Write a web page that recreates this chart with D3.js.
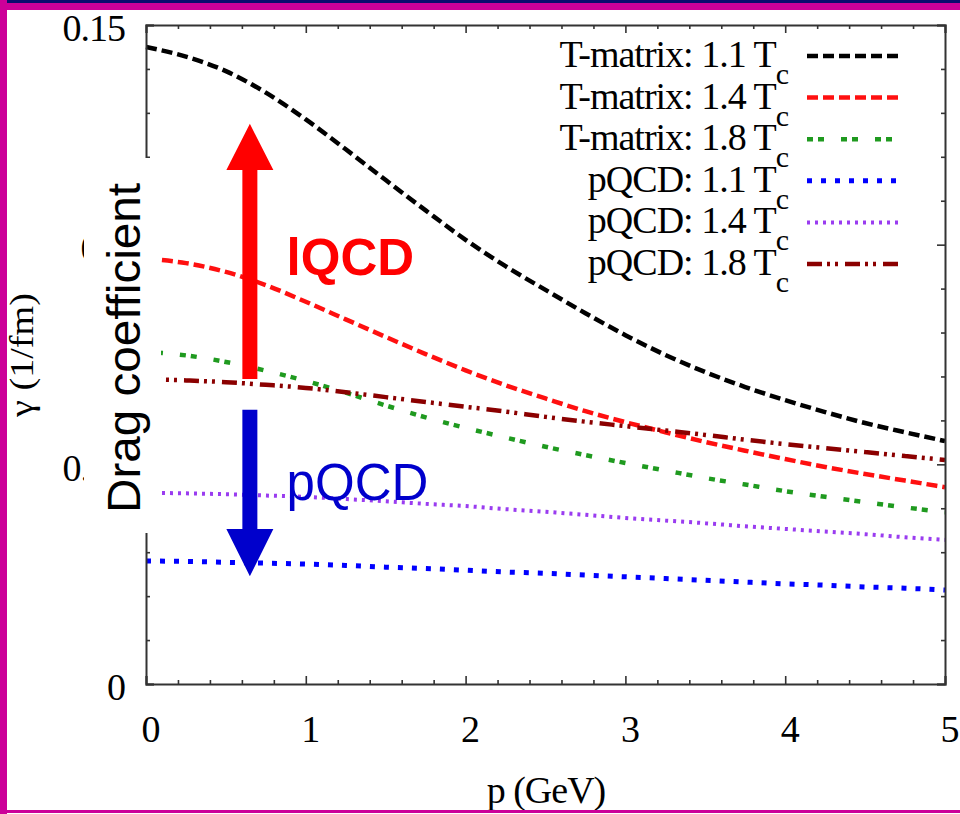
<!DOCTYPE html>
<html>
<head>
<meta charset="utf-8">
<script src="https://cdn.jsdelivr.net/npm/d3@7"></script>
<style>
  html, body { margin: 0; padding: 0; background: #fff; }
  svg { display: block; }
  .serif { font-family: "Liberation Serif", "Times New Roman", serif; fill: #000; font-size: 38px; letter-spacing: -1px; }
  .sans { font-family: "Liberation Sans", Arial, sans-serif; }
</style>
</head>
<body>
<svg id="chart" width="960" height="814"></svg>
<script>
// Momentum grid (GeV)
const momentum = [0, 0.25, 0.5, 0.75, 1, 1.25, 1.5, 1.75, 2, 2.25, 2.5, 2.75, 3, 3.25, 3.5, 3.75, 4, 4.25, 4.5, 4.75, 5];

// Drag coefficient gamma (1/fm) for each model and temperature
const tmatrix11 = [0.1450, 0.1428, 0.1395, 0.1346, 0.1285, 0.1217, 0.1147, 0.1078, 0.1011, 0.0951, 0.0897, 0.0844, 0.0794, 0.0749, 0.0710, 0.0676, 0.0646, 0.0619, 0.0594, 0.0573, 0.0553];
const tmatrix14 = [0.0968, 0.0958, 0.0938, 0.0908, 0.0870, 0.0830, 0.0790, 0.0751, 0.0714, 0.0680, 0.0650, 0.0621, 0.0596, 0.0573, 0.0551, 0.0531, 0.0512, 0.0494, 0.0478, 0.0463, 0.0448];
const tmatrix18 = [0.0756, 0.0748, 0.0733, 0.0713, 0.0690, 0.0663, 0.0634, 0.0607, 0.0583, 0.0561, 0.0540, 0.0521, 0.0503, 0.0486, 0.0469, 0.0454, 0.0439, 0.0426, 0.0414, 0.0402, 0.0391];
const pqcd11 = [0.0280, 0.0279, 0.0277, 0.0275, 0.0273, 0.0270, 0.0266, 0.0263, 0.0259, 0.0255, 0.0252, 0.0248, 0.0244, 0.0240, 0.0236, 0.0232, 0.0228, 0.0225, 0.0221, 0.0218, 0.0214];
const pqcd14 = [0.0435, 0.0434, 0.0432, 0.0429, 0.0426, 0.0421, 0.0416, 0.0410, 0.0405, 0.0398, 0.0392, 0.0385, 0.0378, 0.0372, 0.0366, 0.0359, 0.0353, 0.0347, 0.0341, 0.0334, 0.0328];
const pqcd18 = [0.0694, 0.0691, 0.0687, 0.0681, 0.0674, 0.0664, 0.0653, 0.0642, 0.0631, 0.0620, 0.0608, 0.0597, 0.0587, 0.0577, 0.0567, 0.0556, 0.0546, 0.0537, 0.0528, 0.0519, 0.0510];

// Legend text (main part + subscript)
const seriesLabels = ["T-matrix: 1.1 T", "T-matrix: 1.4 T", "T-matrix: 1.8 T", "pQCD: 1.1 T", "pQCD: 1.4 T", "pQCD: 1.8 T"];
const seriesSubscript = "c";

// Axis ticks
const xMajorTicks = [0, 1, 2, 3, 4, 5];
const xMinorTicks = [0.2, 0.4, 0.6, 0.8, 1.2, 1.4, 1.6, 1.8, 2.2, 2.4, 2.6, 2.8, 3.2, 3.4, 3.6, 3.8, 4.2, 4.4, 4.6, 4.8];
const yMajorTicks = [0, 0.05, 0.1, 0.15];
const yTickLabels = ["0", "0.05", "0.1", "0.15"];
const yMinorTicks = [0.01, 0.02, 0.03, 0.04, 0.06, 0.07, 0.08, 0.09, 0.11, 0.12, 0.13, 0.14];

// Annotation arrows, in data units: [p, shaft end, head base, tip]
const upArrow = [0.65, 0.0694, 0.1170, 0.1275];
const downArrow = [0.65, 0.0624, 0.0353, 0.0245];

const svg = d3.select("#chart");
const W = 960, H = 814;

const x = d3.scaleLinear().domain([0, 5]).range([146, 945]);
const y = d3.scaleLinear().domain([0, 0.15]).range([684, 25]);

svg.append("rect").attr("width", W).attr("height", H).attr("fill", "#fff");

// Series styles
const series = [
  { vals: tmatrix11, color: "#000000", width: 4.5, dash: "11,5" },
  { vals: tmatrix14, color: "#ff1010", width: 4.5, dash: "11,5" },
  { vals: tmatrix18, color: "#1f9a1f", width: 4.5, dash: "6,5,6,17" },
  { vals: pqcd11,    color: "#0000ff", width: 5,   dash: "5,9" },
  { vals: pqcd14,    color: "#9a3cf0", width: 4,   dash: "3,5" },
  { vals: pqcd18,    color: "#8b0000", width: 4.5, dash: "15,5,3,5,3,7" }
];

const line = d3.line()
  .x(d => x(d[0]))
  .y(d => y(d[1]))
  .curve(d3.curveMonotoneX);

const curves = svg.append("g");
series.forEach(s => {
  curves.append("path")
    .datum(momentum.map((p, i) => [p, s.vals[i]]))
    .attr("d", line)
    .attr("fill", "none")
    .attr("stroke", s.color)
    .attr("stroke-width", s.width)
    .attr("stroke-dasharray", s.dash);
});

// Axes: inward ticks on all four sides
const axisColor = "#333";
function styleAxis(g) {
  g.attr("font-size", null).attr("font-family", null);
  g.select(".domain").attr("stroke", axisColor).attr("stroke-width", 2);
  g.selectAll(".tick line").attr("stroke", axisColor).attr("stroke-width", 1.6);
}

const gx = svg.append("g").attr("transform", `translate(0,${y(0)})`)
  .call(d3.axisBottom(x).tickValues(xMajorTicks).tickSize(-8).tickPadding(31).tickFormat(d3.format("d")));
styleAxis(gx);
gx.selectAll(".tick text").attr("class", "serif").attr("dx", 4);

const gxm = svg.append("g").attr("transform", `translate(0,${y(0)})`)
  .call(d3.axisBottom(x).tickValues(xMinorTicks).tickSize(-4).tickFormat(""));
styleAxis(gxm); gxm.select(".domain").remove();

const gxt = svg.append("g").attr("transform", `translate(0,${y(0.15)})`)
  .call(d3.axisTop(x).tickValues(xMajorTicks).tickSize(-8).tickFormat(""));
styleAxis(gxt);
const gxtm = svg.append("g").attr("transform", `translate(0,${y(0.15)})`)
  .call(d3.axisTop(x).tickValues(xMinorTicks).tickSize(-4).tickFormat(""));
styleAxis(gxtm); gxtm.select(".domain").remove();

const gy = svg.append("g").attr("transform", `translate(${x(0)},0)`)
  .call(d3.axisLeft(y).tickValues(yMajorTicks).tickSize(-8).tickPadding(21)
    .tickFormat((d, i) => yTickLabels[i]));
styleAxis(gy);
gy.selectAll(".tick text").attr("class", "serif").attr("dy", "0.42em");

const gym = svg.append("g").attr("transform", `translate(${x(0)},0)`)
  .call(d3.axisLeft(y).tickValues(yMinorTicks).tickSize(-4).tickFormat(""));
styleAxis(gym); gym.select(".domain").remove();

const gyr = svg.append("g").attr("transform", `translate(${x(5)},0)`)
  .call(d3.axisRight(y).tickValues(yMajorTicks).tickSize(-8).tickFormat(""));
styleAxis(gyr);
const gyrm = svg.append("g").attr("transform", `translate(${x(5)},0)`)
  .call(d3.axisRight(y).tickValues(yMinorTicks).tickSize(-4).tickFormat(""));
styleAxis(gyrm); gyrm.select(".domain").remove();

svg.selectAll(".tick text").attr("fill", "#000");

// Axis titles
svg.append("text").attr("class", "serif")
  .attr("x", 546).attr("y", 803).attr("text-anchor", "middle")
  .text("p (GeV)");

svg.append("text").attr("class", "serif")
  .attr("transform", "translate(33,355) rotate(-90)")
  .attr("text-anchor", "middle").style("font-size", "34px").style("letter-spacing", "0px")
  .attr("textLength", 124).attr("lengthAdjust", "spacingAndGlyphs")
  .text("γ (1/fm)");

// Legend
const legend = svg.append("g");
series.forEach((s, i) => {
  const ly = 56 + i * 41.6;
  const t = legend.append("text").attr("class", "serif")
    .attr("x", 788).attr("y", ly + 11).attr("text-anchor", "end");
  t.append("tspan").text(seriesLabels[i]);
  t.append("tspan").attr("dy", 17).style("font-size", "30px").text(seriesSubscript);
  legend.append("line")
    .attr("x1", 807).attr("x2", 903).attr("y1", ly).attr("y2", ly)
    .attr("stroke", s.color).attr("stroke-width", s.width)
    .attr("stroke-dasharray", s.dash);
});

// White label panel over the left axis with the descriptive title
svg.append("rect").attr("x", 84).attr("y", 158).attr("width", 77).attr("height", 375).attr("fill", "#fff");
svg.append("text").attr("class", "sans")
  .attr("transform", "translate(140,348) rotate(-90)")
  .attr("text-anchor", "middle").attr("font-size", 47)
  .attr("textLength", 330).attr("lengthAdjust", "spacingAndGlyphs")
  .attr("fill", "#000")
  .text("Drag coefficient");

// Arrows
function arrow(a, color) {
  const [p, shaftEnd, headBase, tip] = a;
  const cx = x(p), sw = 7.5, hw = 23.5;
  const pts = [
    [cx - sw, y(shaftEnd)], [cx - sw, y(headBase)], [cx - hw, y(headBase)],
    [cx, y(tip)],
    [cx + hw, y(headBase)], [cx + sw, y(headBase)], [cx + sw, y(shaftEnd)]
  ];
  svg.append("path").attr("d", "M" + pts.map(q => q.join(",")).join("L") + "Z").attr("fill", color);
}
arrow(upArrow, "#ff0000");
arrow(downArrow, "#0000cc");

svg.append("text").attr("class", "sans")
  .attr("x", x(0.88)).attr("y", y(0.0931)).attr("font-size", 51).attr("font-weight", "bold")
  .attr("fill", "#ff0000").text("lQCD");
svg.append("text").attr("class", "sans")
  .attr("x", x(0.88)).attr("y", y(0.0419)).attr("font-size", 51)
  .attr("fill", "#0000cc").text("pQCD");

// Slide border
svg.append("rect").attr("x", 0).attr("y", 0).attr("width", W).attr("height", 3).attr("fill", "#0c0c6e");
svg.append("rect").attr("x", 0).attr("y", 3).attr("width", W).attr("height", 7).attr("fill", "#cc0099");
svg.append("rect").attr("x", 0).attr("y", 0).attr("width", 7).attr("height", H).attr("fill", "#cc0099");
svg.append("rect").attr("x", 0).attr("y", 810).attr("width", W).attr("height", 3).attr("fill", "#cc0099");
</script>
</body>
</html>
